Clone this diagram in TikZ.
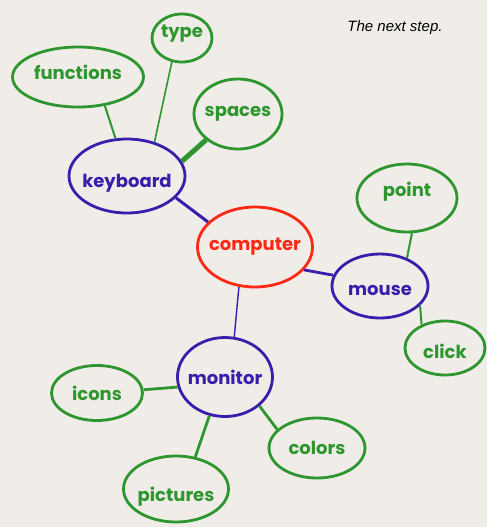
\documentclass[tikz,border=0pt]{standalone}
\usepackage{fontspec}
\setmainfont{Poppins}
\newfontfamily\notefont{Liberation Sans}
\usetikzlibrary{shapes.geometric}
\newcommand{\pu}{0.5pt}
\newcommand{\dropby}[2]{\raisebox{-#1}[\height][\depth]{#2}}
\definecolor{paper}{RGB}{240,236,232}
\definecolor{leafgreen}{RGB}{46,150,46}
\definecolor{hubblue}{RGB}{56,30,170}
\definecolor{rootred}{RGB}{255,40,20}

\begin{document}
\begin{tikzpicture}[blob/.style={draw, ellipse, line width=1.4pt, inner xsep=-3pt, inner ysep=0pt, font=\fontsize{9}{10}\selectfont\bfseries},
    leaf/.style={blob, draw=leafgreen, text=leafgreen},
    hub/.style={blob, draw=hubblue, text=hubblue},
    root/.style={blob, draw=rootred, text=rootred},
    link/.style={line width=1pt}]
    \fill[paper] (0,0) rectangle (487*\pu,-527*\pu);
    \useasboundingbox (0,0) rectangle (487*\pu,-527*\pu);

    % centre
    \node[root, minimum width=115*\pu, minimum height=80*\pu] (computer) at (255*\pu,-247*\pu) {computer};

    % second ring
    \node[hub, minimum width=116*\pu, minimum height=74*\pu] (keyboard) at (127*\pu,-176*\pu) {\dropby{3.5pt}{keyboard}};
    \node[hub, minimum width=96*\pu, minimum height=64*\pu] (mouse) at (380*\pu,-286*\pu) {\dropby{2pt}{mouse}};
    \node[hub, minimum width=95*\pu, minimum height=79*\pu] (monitor) at (225*\pu,-377*\pu) {monitor};

    % leaves
    \node[leaf, minimum width=131*\pu, minimum height=60*\pu] (functions) at (78*\pu,-77*\pu) {\dropby{-2.5pt}{functions}};
    \node[leaf, minimum width=60*\pu, minimum height=48*\pu] (type) at (182*\pu,-38*\pu) {\dropby{-2pt}{type}};
    \node[leaf, minimum width=88*\pu, minimum height=70*\pu] (spaces) at (238*\pu,-114*\pu) {spaces};
    \node[leaf, minimum width=100*\pu, minimum height=68*\pu] (point) at (407*\pu,-198*\pu) {\dropby{-3pt}{point}};
    \node[leaf, minimum width=80*\pu, minimum height=54*\pu] (click) at (445*\pu,-348*\pu) {\dropby{1.5pt}{click}};
    \node[leaf, minimum width=91*\pu, minimum height=55*\pu] (icons) at (97*\pu,-393*\pu) {icons};
    \node[leaf, minimum width=96*\pu, minimum height=60*\pu] (colors) at (317*\pu,-448*\pu) {colors};
    \node[leaf, minimum width=105*\pu, minimum height=66*\pu] (pictures) at (176*\pu,-489*\pu) {\dropby{4pt}{pictures}};

    \node[font=\notefont\itshape\fontsize{7.5}{9}\selectfont] (note) at (395*\pu,-28*\pu) {The next step.};

    % connectors
    \draw[link, hubblue, line width=1.5pt] (keyboard.-24) -- (computer.152);
    \draw[link, hubblue, line width=1.4pt] (computer.-25) -- (mouse.167);
    \draw[link, hubblue, line width=0.7pt] (computer.-112) -- (monitor.77);
    \draw[link, leafgreen] (functions.-47) -- (keyboard.107);
    \draw[link, leafgreen, line width=0.8pt] (type.-113) -- (keyboard.51);
    \draw[link, leafgreen, line width=2.5pt] (spaces.-141) -- (keyboard.15);
    \draw[link, leafgreen] (point.-82) -- (mouse.46);
    \draw[link, leafgreen] (click.135) -- (mouse.-26);
    \draw[link, leafgreen, line width=1.4pt] (icons.4) -- (monitor.-168);
    \draw[link, leafgreen, line width=1.4pt] (pictures.59) -- (monitor.-112);
    \draw[link, leafgreen, line width=1.4pt] (colors.155) -- (monitor.-40);
\end{tikzpicture}
\end{document}
